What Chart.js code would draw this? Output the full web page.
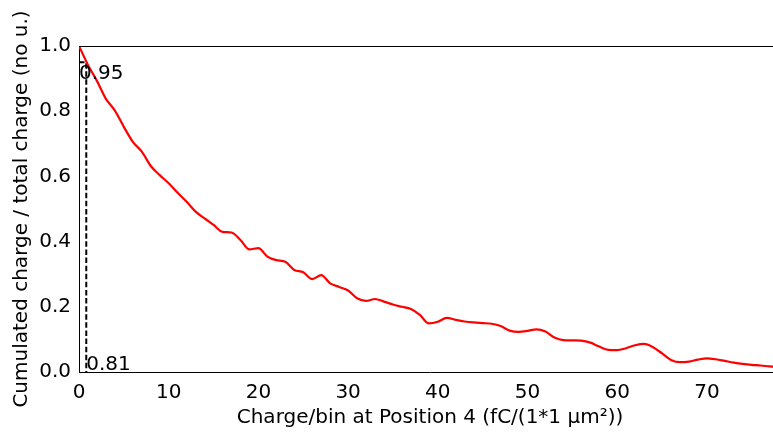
<!DOCTYPE html>
<html>
<head>
<meta charset="utf-8">
<script src="https://cdn.jsdelivr.net/npm/chart.js@4/dist/chart.umd.min.js"></script>
<style>
    html, body { margin: 0; padding: 0; background: #fff; overflow: hidden; }
    #wrap { width: 773px; height: 433px; overflow: hidden; }
</style>
</head>
<body>
<div id="wrap"><canvas id="chart" width="781" height="433"></canvas></div>
<script>
// Cumulated charge curve, one value per fC bin
const chargeBins = [
    0, 1, 2, 3, 4, 5, 6, 7, 8, 9,
    10, 11, 12, 13, 14, 15, 16, 17, 18, 19,
    20, 21, 22, 23, 24, 25, 26, 27, 28, 29,
    30, 31, 32, 33, 34, 35, 36, 37, 38, 39,
    40, 41, 42, 43, 44, 45, 46, 47, 48, 49,
    50, 51, 52, 53, 54, 55, 56, 57, 58, 59,
    60, 61, 62, 63, 64, 65, 66, 67, 68, 69,
    70, 71, 72, 73, 74, 75, 76, 77, 78
];
const cumulatedFraction = [
    1.0, 0.942, 0.893, 0.838, 0.802, 0.752, 0.706, 0.676, 0.632, 0.604,
    0.579, 0.550, 0.522, 0.492, 0.471, 0.451, 0.430, 0.428, 0.405, 0.376,
    0.380, 0.354, 0.343, 0.338, 0.313, 0.306, 0.285, 0.297, 0.272, 0.261,
    0.250, 0.226, 0.218, 0.224, 0.216, 0.207, 0.200, 0.193, 0.175, 0.149,
    0.154, 0.166, 0.160, 0.155, 0.152, 0.150, 0.148, 0.141, 0.127, 0.123,
    0.126, 0.131, 0.124, 0.106, 0.098, 0.097, 0.096, 0.090, 0.078, 0.068,
    0.067, 0.073, 0.082, 0.086, 0.076, 0.057, 0.037, 0.030, 0.032, 0.038,
    0.042, 0.039, 0.034, 0.029, 0.025, 0.022, 0.020, 0.017, 0.015
];

// Marker for the 95 % level
const markerCharge = 0.81;
const markerLevel = 0.95;

const xTicks = [0, 10, 20, 30, 40, 50, 60, 70];
const yTicks = [0.0, 0.2, 0.4, 0.6, 0.8, 1.0];

const FONT = "'DejaVu Sans', sans-serif";
const FONT_SIZE = 20;

// top spine + the two annotation numbers
const extrasPlugin = {
    id: 'extras',
    afterDatasetsDraw(chart) {
        const { ctx, chartArea, scales } = chart;
        ctx.save();
        ctx.strokeStyle = '#000';
        ctx.lineWidth = 1;
        ctx.beginPath();
        ctx.moveTo(chartArea.left, chartArea.top + 0.5);
        ctx.lineTo(chartArea.right, chartArea.top + 0.5);
        ctx.stroke();

        ctx.fillStyle = '#000';
        ctx.font = FONT_SIZE + 'px ' + FONT;
        ctx.textAlign = 'left';
        ctx.textBaseline = 'top';
        ctx.fillText(markerLevel.toFixed(2), scales.x.getPixelForValue(0), scales.y.getPixelForValue(markerLevel) + 1);
        ctx.textBaseline = 'bottom';
        ctx.fillText(markerCharge.toFixed(2), scales.x.getPixelForValue(markerCharge), scales.y.getPixelForValue(0) + 3);
        ctx.restore();
    }
};

new Chart(document.getElementById('chart'), {
    type: 'line',
    data: {
        datasets: [
            {
                data: chargeBins.map((c, i) => ({ x: c, y: cumulatedFraction[i] })),
                borderColor: '#ff0000',
                borderWidth: 2.2,
                pointRadius: 0,
                cubicInterpolationMode: 'monotone',
                fill: false
            },
            {
                data: [
                    { x: 0, y: markerLevel },
                    { x: markerCharge, y: markerLevel },
                    { x: markerCharge, y: 0 }
                ],
                borderColor: '#000',
                borderWidth: 2,
                borderDash: [5.5, 2.6],
                pointRadius: 0,
                tension: 0,
                fill: false
            }
        ]
    },
    options: {
        responsive: false,
        animation: false,
        layout: { padding: { top: 46, right: 0, left: 0, bottom: 0 } },
        plugins: {
            legend: { display: false },
            tooltip: { enabled: false }
        },
        scales: {
            x: {
                type: 'linear',
                min: 0,
                max: 78.26,
                afterFit: (scale) => { scale.height = 61; },
                afterBuildTicks: (scale) => { scale.ticks = xTicks.map(v => ({ value: v })); },
                grid: { display: false, drawOnChartArea: false, tickLength: 5, tickColor: '#000' },
                border: { display: true, color: '#000', width: 1 },
                ticks: {
                    color: '#000',
                    font: { family: FONT, size: FONT_SIZE },
                    padding: 4,
                    maxRotation: 0,
                    callback: (v) => String(v)
                },
                title: {
                    display: true,
                    text: 'Charge/bin at Position 4 (fC/(1*1 μm²))',
                    color: '#000',
                    font: { family: FONT, size: FONT_SIZE },
                    padding: { top: 0, bottom: 3 }
                }
            },
            y: {
                type: 'linear',
                min: 0,
                max: 1,
                afterFit: (scale) => { scale.width = 79; },
                afterBuildTicks: (scale) => { scale.ticks = yTicks.map(v => ({ value: v })); },
                grid: { display: false, drawOnChartArea: false, tickLength: 5, tickColor: '#000' },
                border: { display: true, color: '#000', width: 1 },
                ticks: {
                    color: '#000',
                    font: { family: FONT, size: FONT_SIZE },
                    padding: 3,
                    callback: (v) => v.toFixed(1)
                },
                title: {
                    display: true,
                    text: 'Cumulated charge / total charge (no u.)',
                    color: '#000',
                    font: { family: FONT, size: FONT_SIZE },
                    padding: { top: 10, bottom: 0 }
                }
            }
        }
    },
    plugins: [extrasPlugin]
});
</script>
</body>
</html>
